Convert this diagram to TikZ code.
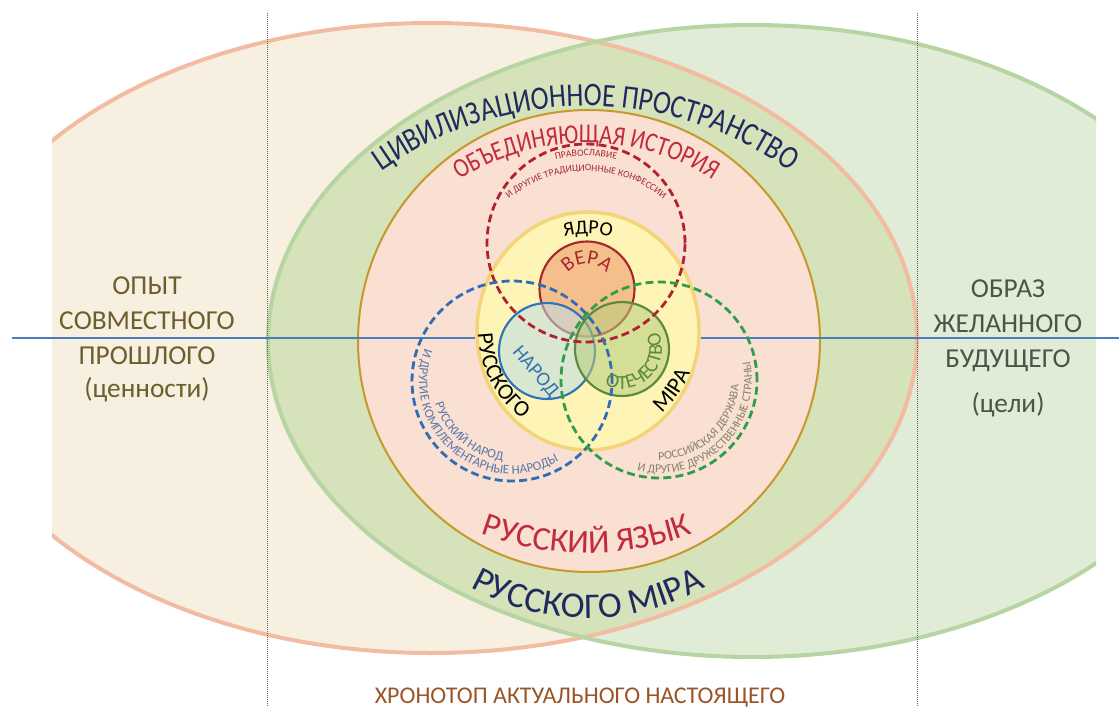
\documentclass[tikz,border=0pt]{standalone}
\usepackage{fontspec}
\setmainfont{Carlito}
\newfontfamily\narrowf[FakeStretch=0.82]{Carlito}
\usetikzlibrary{decorations.text,shapes.geometric}
\definecolor{creamfill}{HTML}{F7EFDF}
\definecolor{pinkline}{HTML}{F2BCA3}
\definecolor{greenfill}{HTML}{E1ECD6}
\definecolor{greenline}{HTML}{B6D5A2}
\definecolor{bandfill}{HTML}{D6E2BA}
\definecolor{histfill}{HTML}{FADFD3}
\definecolor{goldline}{HTML}{C49A2C}
\definecolor{corefill}{HTML}{FDF4B6}
\definecolor{coreline}{HTML}{F4D478}
\definecolor{verafill}{HTML}{F5BF8C}
\definecolor{veraline}{HTML}{A8262E}
\definecolor{narodfill}{HTML}{BFDDE6}
\definecolor{narodline}{HTML}{2F73B8}
\definecolor{otechfill}{HTML}{B5CC7A}
\definecolor{otechline}{HTML}{5B8A3E}
\definecolor{reddash}{HTML}{B3202F}
\definecolor{bluedash}{HTML}{2F6DB5}
\definecolor{greendash}{HTML}{2E9E4A}
\definecolor{axisblue}{HTML}{4A7EBB}
\definecolor{navytext}{HTML}{1F2B5E}
\definecolor{crimsontext}{HTML}{C12A3F}
\definecolor{orthtext}{HTML}{A52A3A}
\definecolor{peopletext}{HTML}{5A78A8}
\definecolor{statetext}{HTML}{85856C}
\definecolor{olivetext}{HTML}{6E5E2E}
\definecolor{graytext}{HTML}{4E5349}
\definecolor{browntext}{HTML}{9A5526}
\newcommand\civf{\narrowf\fontsize{24.75}{28}\selectfont\color{navytext}}
\newcommand\histf{\narrowf\fontsize{20.5}{24}\selectfont\color{crimsontext}}
\newcommand\mirf{\fontsize{27}{30}\selectfont\color{navytext}}
\newcommand\langf{\fontsize{25}{28}\selectfont\color{crimsontext}}
\newcommand\orthf{\fontsize{7.3}{8}\selectfont\color{orthtext}}
\newcommand\coref{\fontsize{15}{18}\selectfont}
\newcommand\veraf{\fontsize{15.5}{18}\selectfont\color{veraline}}
\newcommand\rusf{\fontsize{17}{20}\selectfont}
\newcommand\narodf{\fontsize{15}{18}\selectfont\color{narodline}}
\newcommand\otechf{\fontsize{15}{18}\selectfont\color{otechline}}
\newcommand\peoplef{\fontsize{9.75}{11}\selectfont\color{peopletext}}
\newcommand\statef{\fontsize{9}{11}\selectfont\color{statetext}}
\newcommand\sidef{\fontsize{20.5}{24}\selectfont}
\newcommand\nowf{\fontsize{18}{21}\selectfont\color{browntext}}
\begin{document}
\begin{tikzpicture}[x=0.75pt,y=0.75pt,
    rim/.style={line width=3pt},
    dashring/.style={circle,inner sep=0pt,dash pattern=on 6pt off 3.2pt,line width=2.1pt},
    smallring/.style={circle,draw,line width=1.6pt,inner sep=0pt},
    axis/.style={axisblue,line width=1.8pt},
    arctext/.style={decorate,decoration={text along path,text align=center,text={#1}}},
    side/.style={anchor=base,font=\sidef}]
\useasboundingbox (0,0) rectangle (1119,707);
\begin{scope}
\clip (52,0) rectangle (1119,707);
\fill[creamfill] (431,369) ellipse[x radius=486,y radius=315];
\end{scope}
\begin{scope}
\clip (0,0) rectangle (1096,707);
\fill[greenfill] (752,366) ellipse[x radius=484,y radius=316];
\end{scope}
\begin{scope}
\clip (431,369) ellipse[x radius=486,y radius=315];
\fill[bandfill] (752,366) ellipse[x radius=484,y radius=316];
\end{scope}
\begin{scope}
\clip (52,0) rectangle (1119,707);
\draw[rim,pinkline] (431,369) ellipse[x radius=486,y radius=315];
\end{scope}
\begin{scope}
\clip (0,0) rectangle (1096,707);
\draw[rim,greenline] (752,366) ellipse[x radius=484,y radius=316];
\end{scope}
\draw[black!60,densely dotted,line width=0.5pt] (267,694) -- (267,0);
\draw[black!60,densely dotted,line width=0.5pt] (917,694) -- (917,0);

\node[circle,draw=goldline,fill=histfill,line width=1.5pt,minimum size=346.5pt,inner sep=0pt] (hist) at (589,366) {};
\node[ellipse,draw=coreline,fill=corefill,line width=2.6pt,minimum width=166.5pt,minimum height=178.5pt,inner sep=0pt] (core) at (588,376) {};
\node[smallring,draw=veraline,fill=verafill,minimum size=71.25pt] (vera) at (587,418) {};
\node[smallring,draw=narodline,fill=narodfill,fill opacity=0.55,minimum size=72pt] (narod) at (547,356) {};
\node[smallring,draw=otechline,fill=otechfill,fill opacity=0.55,minimum size=70.5pt] (otech) at (622,358) {};

\coordinate (pastend) at (12,369);
\coordinate (futureend) at (1119,369);
\draw[axis] (pastend) -- (pastend -| core.west);
\draw[axis] (futureend -| core.east) -- (futureend);

\node[dashring,draw=reddash,minimum size=148.5pt] (faith) at (586,464) {};
\node[dashring,draw=bluedash,minimum size=150pt] (people) at (512,326) {};
\node[dashring,draw=greendash,minimum size=147pt] (state) at (659,327) {};

\coordinate (civ) at (586,249);
\coordinate (hst) at (586,328);
\coordinate (mir) at (588,329);
\coordinate (lang) at (587,457);
\coordinate (orth) at (586,415);
\path[arctext={|\civf|ЦИВИЛИЗАЦИОННОЕ ПРОСТРАНСТВО}] ([shift={(150:352)}]civ) arc[start angle=150,end angle=30,radius=352];
\path[arctext={|\histf|ОБЪЕДИНЯЮЩАЯ ИСТОРИЯ}] ([shift={(150:236)}]hst) arc[start angle=150,end angle=30,radius=236];
\path[arctext={|\mirf|РУССКОГО МІРА}] ([shift={(200:240)}]mir) arc[start angle=200,end angle=340,radius=240];
\path[arctext={|\langf|РУССКИЙ ЯЗЫК}] ([shift={(235:303)}]lang) arc[start angle=235,end angle=305,radius=303];
\path[arctext={|\orthf|ПРАВОСЛАВИЕ}] ([shift={(130:136)}]orth) arc[start angle=130,end angle=50,radius=136];
\path[arctext={|\orthf|И ДРУГИЕ ТРАДИЦИОННЫЕ КОНФЕССИИ}] ([shift={(145:121)}]orth) arc[start angle=145,end angle=35,radius=121];
\path[arctext={|\coref|ЯДРО}] ([shift={(120:97)}]core.center) arc[start angle=120,end angle=60,radius=97];
\path[arctext={|\veraf|ВЕРА}] ([shift={(175:25)}]vera.center) arc[start angle=175,end angle=5,radius=25];
\path[arctext={|\rusf|РУССКОГО}] ([shift={(150:110)}]core.center) arc[start angle=150,end angle=265,radius=110];
\path[arctext={|\rusf|МІРА}] ([shift={(280:110)}]core.center) arc[start angle=280,end angle=370,radius=110];
\path[arctext={|\otechf|ОТЕЧЕСТВО}] ([shift={(230:40)}]otech.center) arc[start angle=230,end angle=400,radius=40];
\path[arctext={|\peoplef|РУССКИЙ НАРОД}] ([shift={(160:80)}]people.center) arc[start angle=160,end angle=300,radius=80];
\path[arctext={|\peoplef|И ДРУГИЕ КОМПЛЕМЕНТАРНЫЕ НАРОДЫ}] ([shift={(150:93)}]people.center) arc[start angle=150,end angle=310,radius=93];
\path[arctext={|\statef|РОССИЙСКАЯ ДЕРЖАВА}] ([shift={(243:80)}]state.center) arc[start angle=243,end angle=383,radius=80];
\path[arctext={|\statef|И ДРУГИЕ ДРУЖЕСТВЕННЫЕ СТРАНЫ}] ([shift={(234:93)}]state.center) arc[start angle=234,end angle=394,radius=93];
\node[rotate=-50,font=\narodf] (narodlbl) at (535,335) {НАРОД};

\node[side,text=olivetext] (past1) at (147,412) {ОПЫТ};
\node[side,text=olivetext] (past2) at (147,377) {СОВМЕСТНОГО};
\node[side,text=olivetext] (past3) at (147,342) {ПРОШЛОГО};
\node[side,text=olivetext] (past4) at (147,309) {(ценности)};
\node[side,text=graytext] (future1) at (1008,409) {ОБРАЗ};
\node[side,text=graytext] (future2) at (1008,374) {ЖЕЛАННОГО};
\node[side,text=graytext] (future3) at (1008,339) {БУДУЩЕГО};
\node[side,text=graytext] (future4) at (1008,294) {(цели)};
\node[anchor=base,font=\nowf] (now) at (580,4) {ХРОНОТОП АКТУАЛЬНОГО НАСТОЯЩЕГО};
\end{tikzpicture}
\end{document}
